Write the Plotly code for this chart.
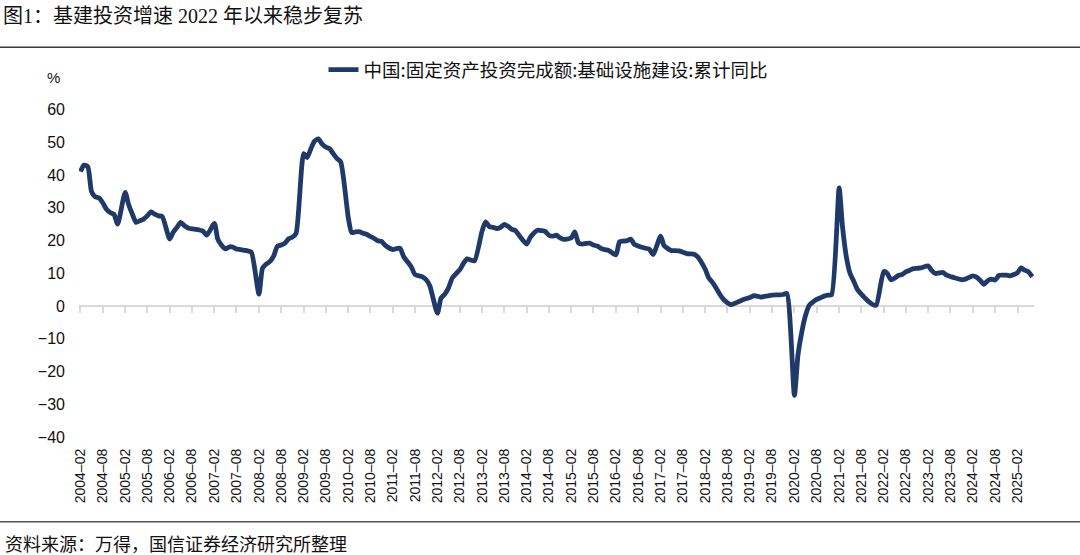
import plotly.graph_objects as go

# ---- data (cumulative YoY %, Feb..Dec each year; no January release) ----
v2004 = [41.0, 43.0, 42.5, 35.0, 33.3, 33.0, 31.5, 29.5, 28.5, 28.0, 25.0]
v2005 = [34.7, 31.0, 28.0, 25.5, 26.0, 26.5, 27.5, 28.7, 28.0, 27.5, 27.3]
v2006 = [20.4, 22.5, 24.0, 25.5, 24.5, 23.8, 23.5, 23.4, 23.2, 22.8, 21.6]
v2007 = [25.2, 20.4, 18.5, 17.4, 18.0, 18.0, 17.4, 17.2, 17.0, 16.8, 16.4]
v2008 = [3.6, 11.5, 12.8, 13.6, 15.3, 18.2, 18.6, 19.2, 20.5, 21.0, 22.2]
v2009 = [46.5, 45.3, 48.0, 50.3, 51.0, 49.5, 48.5, 48.0, 46.5, 45.0, 44.0]
v2010 = [27.0, 22.4, 22.6, 22.7, 22.2, 21.9, 21.2, 20.6, 19.9, 19.7, 18.5]
v2011 = [17.2, 17.5, 17.6, 15.0, 13.5, 12.0, 9.6, 9.2, 8.9, 8.0, 6.1]
v2012 = [-2.2, 2.4, 3.6, 5.5, 8.5, 9.8, 11.0, 13.0, 14.4, 14.0, 13.8]
v2013 = [23.0, 25.7, 24.2, 24.0, 23.6, 24.0, 24.9, 24.3, 23.4, 23.0, 21.5]
v2014 = [18.9, 20.9, 22.3, 23.1, 23.0, 22.8, 21.6, 21.3, 21.6, 20.8, 20.3]
v2015 = [20.8, 22.6, 19.2, 18.9, 19.1, 19.2, 18.6, 18.3, 17.6, 17.2, 17.0]
v2016 = [15.6, 19.6, 19.8, 19.9, 20.4, 18.8, 18.3, 17.9, 17.6, 17.3, 15.7]
v2017 = [21.3, 18.4, 17.5, 16.9, 16.9, 16.8, 16.4, 16.0, 15.9, 15.8, 15.0]
v2018 = [11.2, 8.6, 7.2, 5.5, 3.5, 2.0, 1.0, 0.4, 0.8, 1.3, 1.8]
v2019 = [2.6, 3.1, 3.0, 2.7, 2.9, 3.1, 3.3, 3.4, 3.4, 3.5, 3.8]
v2020 = [-27.3, -15.0, -8.0, -3.0, 0.2, 1.2, 2.0, 2.5, 3.0, 3.3, 3.4]
v2021 = [36.0, 24.0, 15.0, 10.0, 7.5, 5.0, 3.6, 2.4, 1.3, 0.5, 0.2]
v2022 = [10.5, 10.0, 8.0, 8.5, 9.3, 9.6, 10.4, 10.9, 11.4, 11.5, 11.6]
v2023 = [12.2, 10.8, 9.9, 10.1, 10.2, 9.4, 9.0, 8.6, 8.3, 8.0, 8.2]
v2024 = [9.2, 8.8, 7.8, 6.6, 7.7, 8.2, 7.9, 9.3, 9.4, 9.4, 9.2]
v2025 = [10.2, 11.6, 10.9, 10.4, 8.9]

years = [2004, 2005, 2006, 2007, 2008, 2009, 2010, 2011, 2012, 2013, 2014,
         2015, 2016, 2017, 2018, 2019, 2020, 2021, 2022, 2023, 2024, 2025]
yearly = [v2004, v2005, v2006, v2007, v2008, v2009, v2010, v2011, v2012, v2013, v2014,
          v2015, v2016, v2017, v2018, v2019, v2020, v2021, v2022, v2023, v2024, v2025]

tick_labels = ["2004–02", "2004–08", "2005–02", "2005–08", "2006–02", "2006–08",
               "2007–02", "2007–08", "2008–02", "2008–08", "2009–02", "2009–08",
               "2010–02", "2010–08", "2011–02", "2011–08", "2012–02", "2012–08",
               "2013–02", "2013–08", "2014–02", "2014–08", "2015–02", "2015–08",
               "2016–02", "2016–08", "2017–02", "2017–08", "2018–02", "2018–08",
               "2019–02", "2019–08", "2020–02", "2020–08", "2021–02", "2021–08",
               "2022–02", "2022–08", "2023–02", "2023–08", "2024–02", "2024–08",
               "2025–02"]

series_name = "中国:固定资产投资完成额:基础设施建设:累计同比"
title_text = "图1：基建投资增速 2022 年以来稳步复苏"
source_text = "资料来源：万得，国信证券经济研究所整理"

# ---- build x (dates) ----
dates, values = [], []
for y, vals in zip(years, yearly):
    for k, v in enumerate(vals):
        dates.append(f"{y}-{k + 2:02d}-01")
        values.append(v)

tick_dates = [lab.replace("–", "-") + "-01" for lab in tick_labels]

NAVY = "#1F3A68"
NUMFONT = "Liberation Sans, Arial, Noto Sans CJK SC, sans-serif"
CJKFONT = "Noto Sans CJK SC, sans-serif"

fig = go.Figure()
fig.add_trace(go.Scatter(
    x=dates, y=values, mode="lines", name=series_name,
    line=dict(color=NAVY, width=4.8, shape="spline", smoothing=0.6),
    hoverinfo="x+y",
))
# invisible helper trace so the zero-line axis gets drawn
fig.add_trace(go.Scatter(x=[dates[0]], y=[None], xaxis="x2", showlegend=False,
                         hoverinfo="skip", mode="lines"))

W, H = 1080, 555
L, R, T, B = 79, 46, 105, 118
ph = H - T - B
pw = W - L - R

def py(px_y):
    return (H - B - px_y) / ph

def px(px_x):
    return (px_x - L) / pw

fig.update_layout(
    width=W, height=H,
    margin=dict(l=L, r=R, t=T, b=B),
    paper_bgcolor="white", plot_bgcolor="white",
    title=dict(text=title_text, x=3 / W, xref="container", xanchor="left",
               y=1 - 16 / H, yref="container", yanchor="middle",
               font=dict(family="Liberation Serif, Noto Sans CJK SC, serif", size=20, color="#111111")),
    showlegend=True,
    legend=dict(orientation="h", x=548 / W, xref="container", xanchor="center",
                y=1 - 70 / H, yref="container", yanchor="middle",
                font=dict(family=CJKFONT, size=18.5, color="#111111"),
                bgcolor="rgba(0,0,0,0)"),
    xaxis=dict(type="date", range=["2004-01-20", "2025-06-15"],
               tickvals=tick_dates, ticktext=tick_labels, tickangle=-90,
               ticks="", showline=False, showgrid=False, zeroline=False,
               ticklabelstandoff=8,
               tickfont=dict(family=NUMFONT, size=14, color="#111111")),
    xaxis2=dict(overlaying="x", matches="x", anchor="free", position=0.4,
                side="bottom", layer="below traces",
                showline=True, linecolor="#d9d9d9", linewidth=1.5,
                ticks="outside", ticklen=6, tickwidth=1.5, tickcolor="#d9d9d9",
                tickvals=tick_dates, showticklabels=False, showgrid=False, zeroline=False),
    yaxis=dict(range=[-40, 60], dtick=10, tick0=0, showgrid=False, zeroline=False,
               showline=False, ticks="", ticklabelstandoff=13,
               tickfont=dict(family=NUMFONT, size=16, color="#111111")),
    annotations=[
        dict(text="%", x=px(53), y=py(73), xref="paper", yref="paper",
             xanchor="center", yanchor="middle", showarrow=False,
             font=dict(family=NUMFONT, size=15, color="#111111")),
        dict(text=source_text, x=px(3), y=py(544), xref="paper", yref="paper",
             xanchor="left", yanchor="middle", showarrow=False,
             font=dict(family=CJKFONT, size=18, color="#111111")),
    ],
    shapes=[
        dict(type="line", xref="paper", yref="paper", x0=px(0), x1=px(W),
             y0=py(42), y1=py(42), line=dict(color="#3a3a3a", width=1.5)),
        dict(type="line", xref="paper", yref="paper", x0=px(0), x1=px(W),
             y0=py(523), y1=py(523), line=dict(color="#555555", width=1.5)),
    ],
)

fig.write_html(
    "out.html",
    config={"displayModeBar": False},
    post_script="document.body.style.margin='0';document.body.style.padding='0';"
                "document.body.style.overflow='hidden';",
)
